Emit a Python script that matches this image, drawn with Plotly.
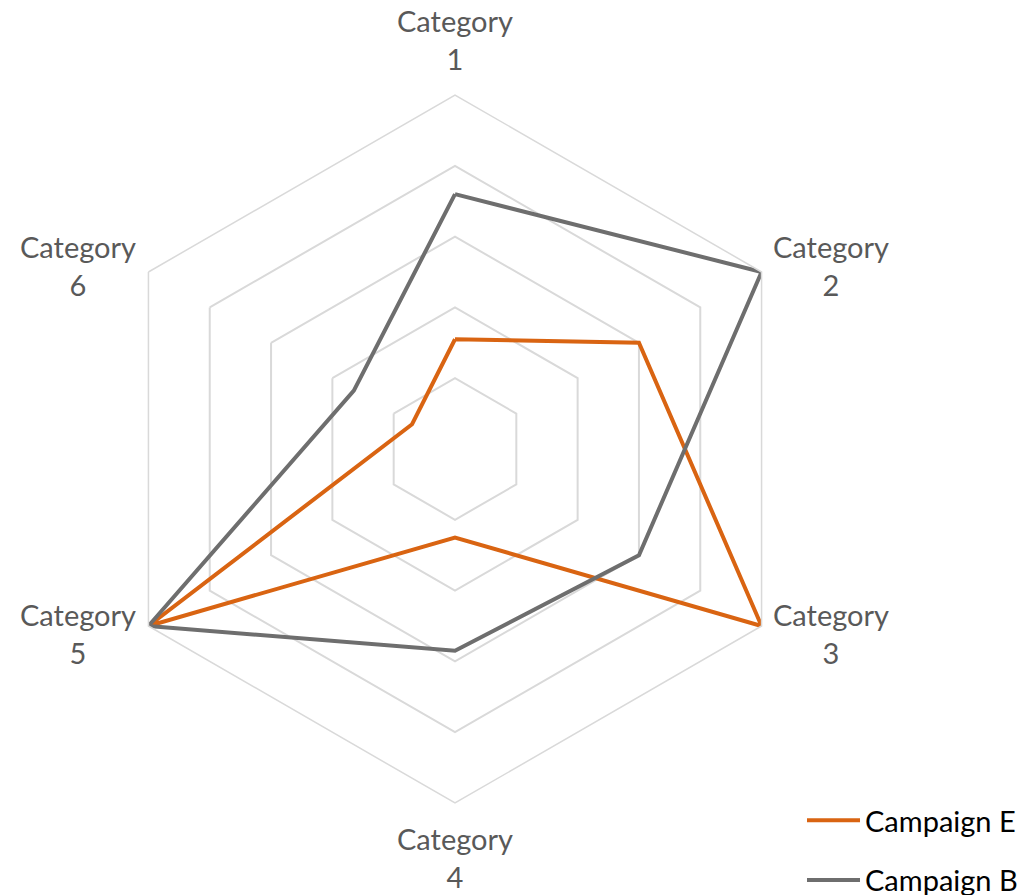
import math
import plotly.graph_objects as go

categories = ["Category 1", "Category 2", "Category 3",
              "Category 4", "Category 5", "Category 6"]
category_labels = ["Category<br>1", "Category<br>2", "Category<br>3",
                   "Category<br>4", "Category<br>5", "Category<br>6"]
campaign_e = [1.55, 3.0, 5.0, 1.25, 5.0, 0.7]
campaign_b = [3.6, 5.0, 3.0, 2.85, 5.0, 1.65]
series_names = ["Campaign E", "Campaign B"]
series_colors = ["#D96412", "#6E6E6E"]

FONT = "Lato"
W, H = 1020, 895
dom_x = [101 / W, 809 / W]
dom_y = [1 - 803 / H, 1 - 95 / H]

fig = go.Figure()
for i, (name, vals, col) in enumerate(zip(series_names, [campaign_e, campaign_b], series_colors)):
    fig.add_trace(go.Scatterpolar(
        r=vals + vals[:1],
        theta=categories + categories[:1],
        mode="lines",
        name=name,
        legendgroup=f"g{i}",
        line=dict(color=col, width=4),
    ))

# category labels placed just outside the outer hexagon vertices
cx = (dom_x[0] + dom_x[1]) / 2
cy = (dom_y[0] + dom_y[1]) / 2
rx = (dom_x[1] - dom_x[0]) / 2
ry = (dom_y[1] - dom_y[0]) / 2
label_shift = [(0, 56), (69, 7), (69, -7), (0, -54), (-70, -7), (-70, 7)]
annotations = []
for k, lab in enumerate(category_labels):
    a = math.radians(90 - 60 * k)
    sx, sy = label_shift[k]
    annotations.append(dict(
        x=cx + rx * math.cos(a), y=cy + ry * math.sin(a),
        xref="paper", yref="paper", text=lab, showarrow=False,
        xanchor="center", yanchor="middle", align="center",
        xshift=sx, yshift=sy,
        font=dict(family=FONT, size=29, color="#595959"),
    ))

fig.update_layout(
    width=W, height=H,
    margin=dict(l=0, r=0, t=0, b=0, autoexpand=False),
    paper_bgcolor="white",
    plot_bgcolor="white",
    font=dict(family=FONT, color="#595959", size=29),
    polar=dict(
        domain=dict(x=dom_x, y=dom_y),
        bgcolor="white",
        gridshape="linear",
        radialaxis=dict(range=[0, 5], dtick=1, showticklabels=False, ticks="",
                        showline=False, gridcolor="#D9D9D9", gridwidth=1.5),
        angularaxis=dict(direction="clockwise", rotation=90, showgrid=False,
                         showline=True, linecolor="#D9D9D9", linewidth=1.5,
                         ticks="", showticklabels=False),
    ),
    annotations=annotations,
    legend=dict(x=802 / W, y=1 - 795 / H, xanchor="left", yanchor="top",
                itemwidth=53,
                font=dict(size=29, color="#000000", family=FONT),
                tracegroupgap=19, bgcolor="rgba(0,0,0,0)"),
)

fig.write_html("out.html")
